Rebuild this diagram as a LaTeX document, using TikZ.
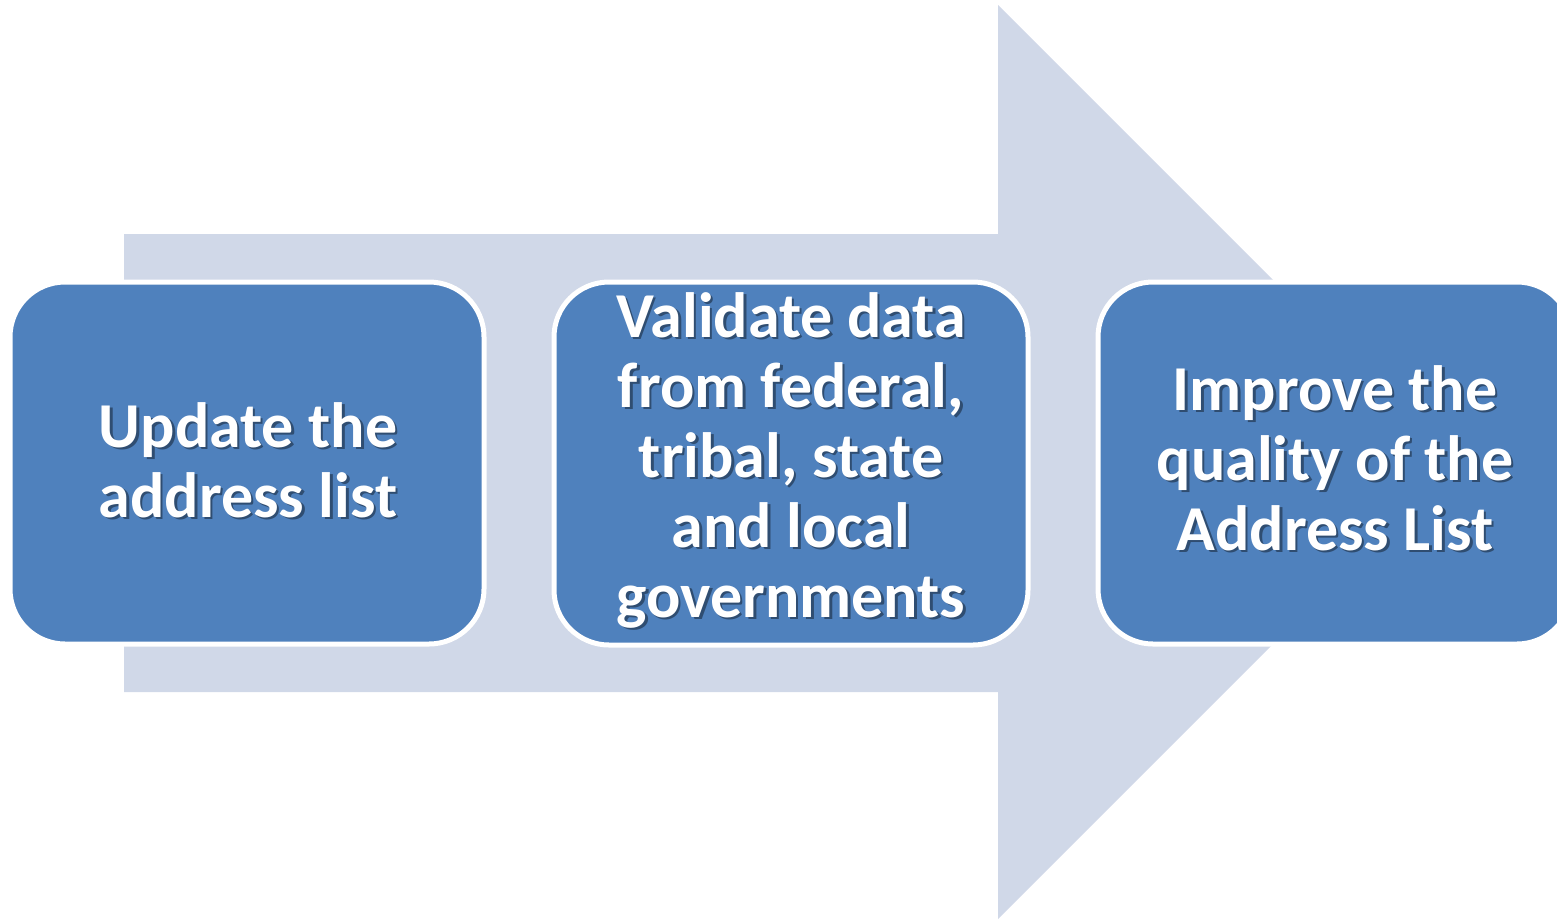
\documentclass[tikz,border=0pt]{standalone}
\usepackage{fontspec}
\setmainfont{Carlito}
\definecolor{boxblue}{HTML}{4F81BD}
\definecolor{arrowgray}{HTML}{D0D8E8}
\tikzset{
  stepbox/.style={fill=boxblue, draw=white, line width=5pt, rounded corners=55pt},
  steptext/.style={text=white, align=center, anchor=base, inner sep=0pt,
    font=\bfseries\fontsize{64}{70}\selectfont},
  stepshadow/.style={steptext, text=black, text opacity=0.4},
}
\begin{document}
\begin{tikzpicture}[x=1pt,y=-1pt]
\useasboundingbox (0,0) rectangle (1557,919);
\clip (0,0) rectangle (1557,919);
% big background arrow
\fill[arrowgray] (124,234) -- (998,234) -- (998,5) -- (1455,462) -- (998,919) -- (998,692) -- (124,692) -- cycle;
% boxes
\path[stepbox] (10,282) rectangle (484,644);
\path[stepbox] (554,282) rectangle (1028,645);
\path[stepbox] (1098,282) rectangle (1572,644);
% texts with shadows (base anchor = baseline of last line)
\node[stepshadow] (s1) at (250.5,519.5) {Update the\\address list};
\node[steptext] (t1) at (248,517) {Update the\\address list};
\node[stepshadow] (s2) at (793.5,619.5) {Validate data\\from federal,\\tribal, state\\and local\\governments};
\node[steptext] (t2) at (791,617) {Validate data\\from federal,\\tribal, state\\and local\\governments};
\node[stepshadow] (s3) at (1337.5,552.5) {Improve the\\quality of the\\Address List};
\node[steptext] (t3) at (1335,550) {Improve the\\quality of the\\Address List};
\end{tikzpicture}
\end{document}
